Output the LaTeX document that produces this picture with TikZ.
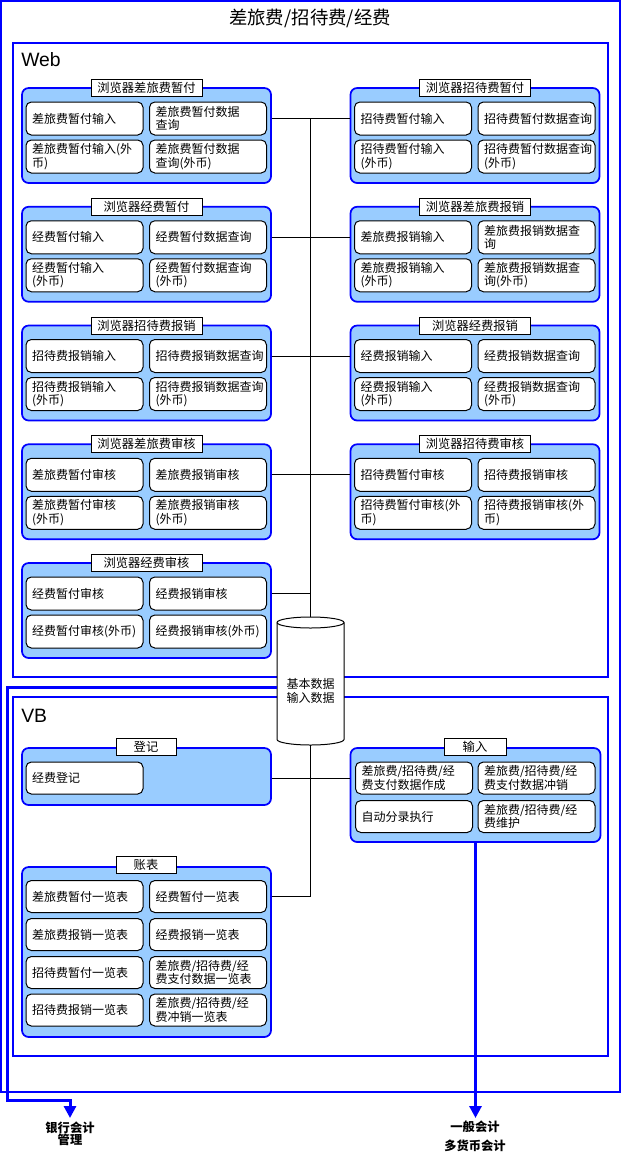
\documentclass[tikz,border=0pt]{standalone}
\usepackage{fontspec}
\setmainfont{Noto Sans CJK SC}
\newfontfamily\latinsans{Liberation Sans}
\usetikzlibrary{arrows.meta}
\definecolor{grpfill}{RGB}{153,204,255}
\definecolor{vblue}{RGB}{0,0,255}
\newcommand\wgroup[8]{%
  \node[grp] (#1) at (#2,#3+47.5) {};
  \node[ttl] (#1t) at (#2,#3) {#4};
  \node[itm] (#1a) at (#2-62,#3+30.5) {#5};
  \node[itm] (#1b) at (#2+61.5,#3+30.5) {#6};
  \node[itm] (#1c) at (#2-62,#3+68.5) {#7};
  \node[itm] (#1d) at (#2+61.5,#3+68.5) {#8};
}
\begin{document}
\begin{tikzpicture}[x=0.75pt,y=-0.75pt,
  outerframe/.style={draw=vblue,line width=1.5pt},
  frame/.style={draw=vblue,line width=1.1pt},
  grp/.style={draw=vblue,fill=grpfill,line width=1.3pt,rounded corners=5pt,
    minimum width=186.75pt,minimum height=71.25pt,inner sep=0pt},
  ttl/.style={draw=black,fill=white,line width=0.75pt,inner sep=0pt,
    minimum width=83.25pt,minimum height=12.75pt,font=\fontsize{9.2pt}{10pt}\selectfont},
  itm/.style={draw=black,fill=white,rounded corners=4pt,line width=0.75pt,
    inner xsep=4.5pt,inner ysep=0pt,text width=78.75pt,minimum height=24.75pt,
    align=left,font=\fontsize{9pt}{10pt}\selectfont},
  conn/.style={draw=black,line width=0.75pt},
  flow/.style={draw=vblue,line width=2.25pt,-{Triangle[width=9pt,length=9pt]}},
  lbl/.style={inner sep=0pt,align=center,font=\bfseries\fontsize{9.2pt}{9pt}\selectfont},
  big/.style={inner sep=0pt,font=\latinsans\fontsize{14.5pt}{16pt}\selectfont,anchor=base west}
]
\useasboundingbox (0,0) rectangle (622,1157);
\draw[outerframe] (1,1) rectangle (620,1092);
\node[inner sep=0pt,font=\fontsize{13.8pt}{15pt}\selectfont] (title) at (310,18) {差旅费/招待费/经费};
\draw[frame] (13,43) rectangle (608,677);
\draw[frame] (13,697) rectangle (608,1056);
\node[big] (web) at (21,66) {Web};
\node[big] (vb) at (21,722) {VB};

% Web groups
\wgroup{g1}{146.5}{88}{浏览器差旅费暂付}{差旅费暂付输入}{差旅费暂付数据\\查询}{差旅费暂付输入(外\\币)}{差旅费暂付数据\\查询(外币)}
\wgroup{g2}{475}{88}{浏览器招待费暂付}{招待费暂付输入}{招待费暂付数据查询}{招待费暂付输入\\(外币)}{招待费暂付数据查询\\(外币)}
\wgroup{g3}{146.5}{206.75}{浏览器经费暂付}{经费暂付输入}{经费暂付数据查询}{经费暂付输入\\(外币)}{经费暂付数据查询\\(外币)}
\wgroup{g4}{475}{206.75}{浏览器差旅费报销}{差旅费报销输入}{差旅费报销数据查\\询}{差旅费报销输入\\(外币)}{差旅费报销数据查\\询(外币)}
\wgroup{g5}{146.5}{325.5}{浏览器招待费报销}{招待费报销输入}{招待费报销数据查询}{招待费报销输入\\(外币)}{招待费报销数据查询\\(外币)}
\wgroup{g6}{475}{325.5}{浏览器经费报销}{经费报销输入}{经费报销数据查询}{经费报销输入\\(外币)}{经费报销数据查询\\(外币)}
\wgroup{g7}{146.5}{444.25}{浏览器差旅费审核}{差旅费暂付审核}{差旅费报销审核}{差旅费暂付审核\\(外币)}{差旅费报销审核\\(外币)}
\wgroup{g8}{475}{444.25}{浏览器招待费审核}{招待费暂付审核}{招待费报销审核}{招待费暂付审核(外\\币)}{招待费报销审核(外\\币)}
\wgroup{g9}{146.5}{563}{浏览器经费审核}{经费暂付审核}{经费报销审核}{经费暂付审核(外币)}{经费报销审核(外币)}

% database cylinder
\node[minimum width=50.25pt,minimum height=96pt,inner sep=0pt] (db) at (310.5,681) {};
\draw[fill=white,line width=0.75pt] (277,622.5) -- (277,739.5)
  arc[start angle=180,end angle=0,x radius=33.5,y radius=5.5]
  -- (344,622.5) arc[start angle=0,end angle=-180,x radius=33.5,y radius=5.5] -- cycle;
\draw[line width=0.75pt] (277,622.5) arc[start angle=180,end angle=0,x radius=33.5,y radius=5.5];
\node[align=center,inner sep=0pt,font=\fontsize{9pt}{10.5pt}\selectfont] (dbt) at (310.5,691) {基本数据\\输入数据};

% VB groups
\node[grp,minimum height=42.75pt] (dj) at (146.5,776.5) {};
\node[ttl,minimum width=45pt] (djt) at (146,747) {登记};
\node[itm,minimum height=24pt] (dja) at (84.5,778) {经费登记};

\node[grp,minimum width=187.5pt,minimum height=70.5pt] (sr) at (475.5,795) {};
\node[ttl,minimum width=46.5pt] (srt) at (475,747) {输入};
\node[itm,minimum height=24pt] (sra) at (414,778) {差旅费/招待费/经\\费支付数据作成};
\node[itm,minimum height=24pt] (srb) at (536.5,778) {差旅费/招待费/经\\费支付数据冲销};
\node[itm,minimum height=24pt] (src) at (414,816.5) {自动分录执行};
\node[itm,minimum height=24pt] (srd) at (536.5,816.5) {差旅费/招待费/经\\费维护};

\node[grp,minimum height=127.5pt] (zb) at (146.5,952) {};
\node[ttl,minimum width=45pt] (zbt) at (146,865) {账表};
\node[itm,minimum height=24pt] (zba) at (84.5,896.5) {差旅费暂付一览表};
\node[itm,minimum height=24pt] (zbb) at (208,896.5) {经费暂付一览表};
\node[itm,minimum height=24pt] (zbc) at (84.5,934.5) {差旅费报销一览表};
\node[itm,minimum height=24pt] (zbd) at (208,934.5) {经费报销一览表};
\node[itm,minimum height=24pt] (zbe) at (84.5,972.5) {招待费暂付一览表};
\node[itm,minimum height=24pt] (zbf) at (208,972.5) {差旅费/招待费/经\\费支付数据一览表};
\node[itm,minimum height=24pt] (zbg) at (84.5,1010) {招待费报销一览表};
\node[itm,minimum height=24pt] (zbh) at (208,1010) {差旅费/招待费/经\\费冲销一览表};

% connectors
\draw[conn] (g1a.center -| g1.east) -| (db.north);
\draw[conn] (g3a.center -| g3.east) -- (g3a.center -| db.north);
\draw[conn] (g5a.center -| g5.east) -- (g5a.center -| db.north);
\draw[conn] (g7a.center -| g7.east) -- (g7a.center -| db.north);
\draw[conn] (g9a.center -| g9.east) -- (g9a.center -| db.north);
\draw[conn] (g2a.center -| g2.west) -- (g2a.center -| db.north);
\draw[conn] (g4a.center -| g4.west) -- (g4a.center -| db.north);
\draw[conn] (g6a.center -| g6.west) -- (g6a.center -| db.north);
\draw[conn] (g8a.center -| g8.west) -- (g8a.center -| db.north);
\draw[conn] (dja.center -| dj.east) -- (dja.center -| sr.west);
\draw[conn] (db.south) |- (zba.center -| zb.east);

% outputs
\coordinate (bk1) at (7,1100);
\coordinate (bank) at (70,1118);
\coordinate (general) at (475.5,1118);
\draw[flow] ([yshift=-4.5pt]db.west) -| (bk1) -| (bank);
\draw[flow] (sr.south) -- (general);
\node[lbl] (bankl) at (70,1133.5) {银行会计\\管理};
\node[lbl] (genl1) at (475,1127) {一般会计};
\node[lbl] (genl2) at (475,1146) {多货币会计};
\end{tikzpicture}
\end{document}
